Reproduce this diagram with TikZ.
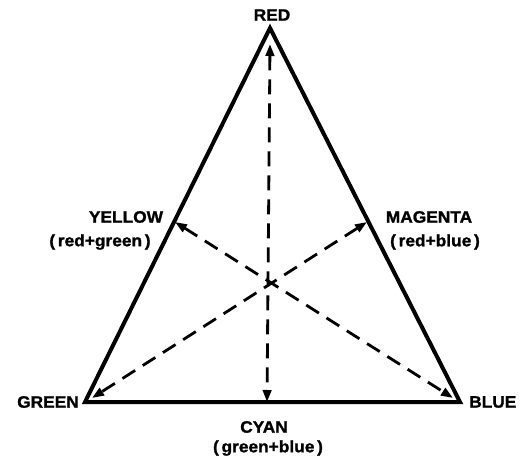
\documentclass[tikz,border=0pt]{standalone}
\usepackage{fontspec}
\setmainfont{Liberation Sans}[FakeStretch=1.05, BoldFeatures={FakeBold=1.3}]
\usetikzlibrary{arrows.meta}
\begin{document}
\begin{tikzpicture}[x=1pt,y=-1pt,
  lab/.style={font=\fontsize{16.5}{18}\selectfont\bfseries, inner sep=0pt, align=center},
  edge/.style={line width=4pt, line join=miter, miter limit=20},
  mix/.style={line width=2.8pt, dash pattern=on 15pt off 9pt,
     {Triangle[length=12pt,width=8.5pt]}-{Triangle[length=12pt,width=8.5pt]}}]
\useasboundingbox (0,0) rectangle (525,468);
% vertices
\coordinate (R) at (270,28);
\coordinate (G) at (85,402);
\coordinate (B) at (460,402);
% mixtures
\coordinate (Y) at (175,222);
\coordinate (M) at (367,222);
\coordinate (C) at (267,402);
\coordinate (Rt) at (270,44);
\coordinate (Gt) at (92,398);
\coordinate (Bt) at (453,398);
% triangle
\draw[edge] (R) -- (B) -- (G) -- cycle;
% dashed connectors
\draw[mix] (Rt) -- (C);
\draw[mix] (Y) -- (Bt);
\draw[mix] (M) -- (Gt);
% labels
\node[lab] (red) at (272,15) {RED};
\node[lab, anchor=east] (green) at (79,402) {GREEN};
\node[lab, anchor=west] (blue) at (469,402) {BLUE};
\node[lab] (cyan) at (264,427) {CYAN};
\node[lab] (cyanmix) at (268,448) {(\,green+blue\,)};
\node[lab] (yellow) at (126,217) {YELLOW};
\node[lab] (yellowmix) at (100,242) {(\,red+green\,)};
\node[lab] (magenta) at (429,217) {MAGENTA};
\node[lab] (magentamix) at (435,242) {(\,red+blue\,)};
\end{tikzpicture}
\end{document}
